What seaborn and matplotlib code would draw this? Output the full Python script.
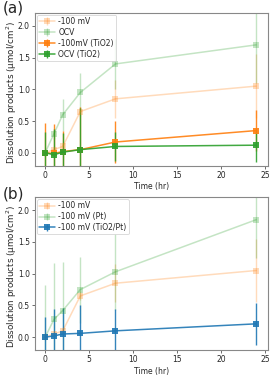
import numpy as np
import pandas as pd
import matplotlib
matplotlib.use("Agg")
import matplotlib.pyplot as plt
import seaborn as sns

sns.set_style("ticks")
plt.rcParams['font.family'] = ['DejaVu Sans']

time = [0, 1, 2, 4, 8, 24]

# panel (a)
mv100 = [0.0, 0.05, 0.10, 0.65, 0.85, 1.05]
mv100_err = [0.05, 0.05, 0.06, 0.07, 0.30, 0.50]
ocv = [0.0, 0.30, 0.60, 0.95, 1.40, 1.70]
ocv_err = [0.05, 0.08, 0.25, 0.30, 0.40, 0.60]
mv100_tio2 = [0.0, -0.01, 0.02, 0.05, 0.17, 0.35]
mv100_tio2_err = [0.47, 0.47, 0.33, 0.67, 0.33, 0.32]
ocv_tio2 = [0.0, -0.03, 0.01, 0.05, 0.10, 0.12]
ocv_tio2_err = [0.32, 0.41, 0.30, 0.65, 0.23, 0.26]

# panel (b)
pt = [0.0, 0.28, 0.42, 0.75, 1.03, 1.85]
pt_err = [0.82, 0.89, 0.77, 0.52, 0.60, 0.60]
tio2pt = [0.0, 0.02, 0.05, 0.06, 0.10, 0.21]
tio2pt_err = [0.32, 0.42, 0.41, 0.45, 0.35, 0.33]

orange = '#ff7f0e'
green = '#2ca02c'
blue = '#1f77b4'

fig, axes = plt.subplots(2, 1, figsize=(2.73, 3.75), dpi=100)
fig.subplots_adjust(left=0.13, right=0.98, top=0.965, bottom=0.067, hspace=0.21)

def series(ax, y, err, color, label, alpha):
    ax.errorbar(time, y, yerr=err, fmt='s-', color=color, alpha=alpha,
                markersize=4.5, markeredgewidth=0, capsize=2.5,
                elinewidth=1.0, capthick=0.8, linewidth=1.1, label=label)

ax = axes[0]
series(ax, mv100, mv100_err, orange, '-100 mV', 0.28)
series(ax, ocv, ocv_err, green, 'OCV', 0.28)
series(ax, mv100_tio2, mv100_tio2_err, orange, '-100mV (TiO2)', 0.9)
series(ax, ocv_tio2, ocv_tio2_err, green, 'OCV (TiO2)', 0.9)

ax = axes[1]
series(ax, mv100, mv100_err, orange, '-100 mV', 0.28)
series(ax, pt, pt_err, green, '-100 mV (Pt)', 0.28)
series(ax, tio2pt, tio2pt_err, blue, '-100 mV (TiO2/Pt)', 0.9)

labels_y = [0.998, 0.503]
for ax, lab, ly in zip(axes, ['(a)', '(b)'], labels_y):
    ax.set_xlim(-1.1, 25.3)
    ax.set_ylim(-0.2, 2.2)
    ax.set_xticks([0, 5, 10, 15, 20, 25])
    ax.set_yticks([0.0, 0.5, 1.0, 1.5, 2.0])
    ax.tick_params(labelsize=5.5, length=2.5, width=0.6, pad=1.5, color='#555555')
    ax.set_xlabel('Time (hr)', fontsize=5.5, labelpad=1.5)
    ax.set_ylabel('Dissolution products (µmol/cm$^2$)', fontsize=6.3)
    ax.yaxis.set_label_coords(-0.07, 0.48)
    for s in ax.spines.values():
        s.set_color('#888888')
        s.set_linewidth(0.8)
    leg = ax.legend(loc='upper left', fontsize=5.5, frameon=True,
                    borderpad=0.3, labelspacing=0.25, handlelength=2.0,
                    handletextpad=0.5, borderaxespad=0.2)
    leg.get_frame().set_linewidth(0.6)
    fig.text(0.01, ly, lab, fontsize=11, ha='left', va='top')

fig.savefig('out.png', dpi=100)
